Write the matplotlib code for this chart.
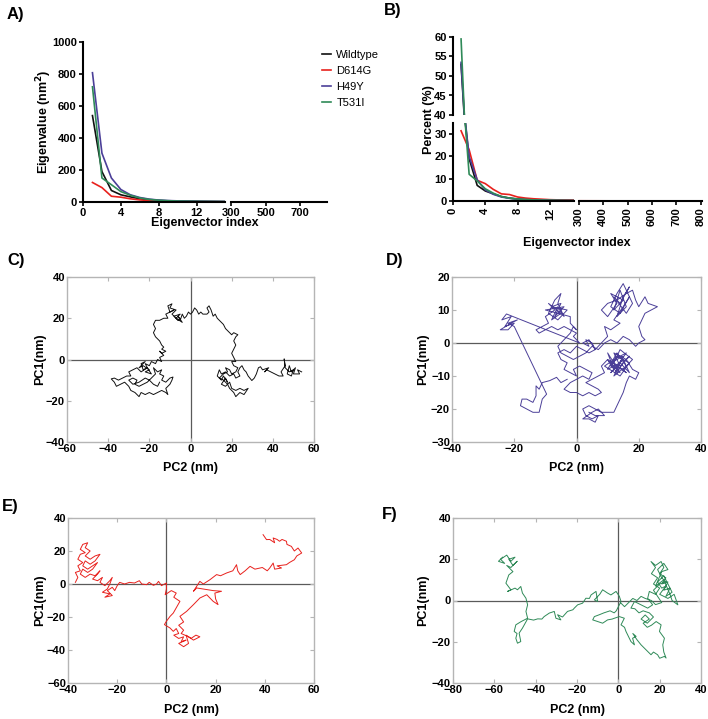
import numpy as np
import matplotlib
matplotlib.use("Agg")
import matplotlib.pyplot as plt

plt.rcParams['font.family'] = ['Liberation Sans', 'DejaVu Sans']

# ---- eigenvalue data (panel A) ----
idx_a = [1, 2, 3, 4, 5, 6, 7, 8, 9, 10, 11, 12, 13, 14, 15, 300, 805]
eig_wt = [540, 190, 72, 45, 32, 20, 13, 9, 7, 5, 4, 3.5, 3, 2.5, 2, 0.5, 0.1]
eig_d614g = [122, 90, 36, 30, 20, 13, 9, 7, 5, 4, 3, 2.5, 2, 1.8, 1.5, 0.4, 0.1]
eig_h49y = [808, 305, 150, 78, 45, 28, 18, 12, 9, 7, 6, 5, 4, 3.5, 3, 0.5, 0.1]
eig_t531i = [720, 150, 108, 65, 42, 25, 16, 11, 8, 6, 5, 4, 3.5, 3, 2.5, 0.5, 0.1]

# ---- percent data (panel B) ----
idx_b = [1, 2, 3, 4, 5, 6, 7, 8, 9, 10, 11, 12, 13, 14, 15, 300, 805]
pct_wt = [53, 19, 7, 4.5, 3.2, 2, 1.3, 0.9, 0.7, 0.5, 0.4, 0.35, 0.3, 0.25, 0.2, 0.05, 0]
pct_d614g = [31.5, 23, 9.3, 7.8, 5.2, 3.2, 2.9, 1.8, 1.3, 1, 0.8, 0.6, 0.5, 0.45, 0.4, 0.1, 0]
pct_h49y = [53.5, 20, 9.5, 5, 3, 1.8, 1.2, 0.8, 0.6, 0.5, 0.4, 0.35, 0.3, 0.25, 0.2, 0.05, 0]
pct_t531i = [59.5, 12, 9, 5.5, 3.5, 2, 1.3, 0.9, 0.7, 0.5, 0.4, 0.35, 0.3, 0.25, 0.2, 0.05, 0]

names = ['Wildtype', 'D614G', 'H49Y', 'T531I']
colors = ['#111111', '#e8211d', '#4b3f98', '#2f8a58']

# ---- PC1/PC2 projections, (PC2, PC1) pairs ----
traj_wt = [
    (54, -6), (52, -5), (53, -7), (50, -7), (51, -4), (49, -6), (48, -3), (47, -7), (49, -8), (50, -5),
    (48, -6), (46, -4), (45.5, 0.3), (46, -3), (44, -6), (45, -8), (43, -8), (41, -7), (39, -6), (37, -5),
    (36, -6), (38, -4), (35, -5), (34, -3.5), (33, -4), (32, -7), (31, -9), (29.8, -10.2), (28, -8), (27, -6),
    (26, -5), (25, -3), (24, -4), (23, -6), (24, -8), (22, -9), (21, -7), (19, -8), (17, -6), (15, -7),
    (14, -5), (13, -8), (15, -10), (16, -8), (18, -11), (17, -9), (15, -12), (17, -13), (19, -11), (20, -14),
    (22, -15), (24, -14), (26, -15), (28, -14), (26, -17), (24, -16), (22, -18), (21, -16), (19, -14), (18, -12),
    (16, -10), (14, -9), (16, -7), (18, -6), (17, -4), (19, -5), (20, -7), (22, -6), (23, -4), (21, -3),
    (20, -1), (22, -1), (21, 1), (20, 3), (21, 5), (22, 7), (21, 9), (22, 11), (23, 12), (21, 13),
    (20, 12), (18, 14), (17, 15), (16, 17), (15, 18), (14, 19), (13, 20), (12, 22), (11, 21), (10, 24),
    (9, 26), (8, 25), (9, 23), (8, 22), (6, 22), (5, 23), (4, 22), (3, 24), (2, 25), (1, 23),
    (0, 22), (-1, 23), (-2, 21), (-3, 20), (-4, 22), (-5, 19), (-6, 21), (-4, 18), (-7, 20), (-5, 22),
    (-8, 21), (-6, 19), (-9, 22), (-7, 24), (-10, 25), (-9, 27), (-11, 26), (-10, 23), (-8, 24), (-12, 22),
    (-11, 20), (-13, 20), (-15, 19), (-17, 19), (-18, 17), (-17, 15), (-18, 13), (-17, 11), (-16, 10), (-15, 9),
    (-14, 7), (-13, 6), (-14, 5), (-12, 4), (-14, 3), (-15, 4), (-13, 2), (-15, 1), (-14, -1), (-16, 0),
    (-17, -2), (-19, -1), (-20, -3), (-22, -2), (-21, -4), (-23, -5), (-24, -2), (-22, -1), (-25, -4), (-23, -3),
    (-20, -5), (-22, -6), (-19, -7), (-21, -4), (-24, -6), (-26, -4), (-28, -5), (-30, -6), (-29, -8), (-31, -8),
    (-33, -9), (-35, -10), (-37, -9), (-38.5, -9.4), (-37, -11), (-36, -13), (-34, -12), (-32, -11), (-30, -13), (-29, -15),
    (-27, -16), (-25, -18), (-24, -16), (-22, -17), (-20, -16), (-18, -17), (-16, -16), (-14, -15), (-12, -16), (-11, -17),
    (-12, -14), (-10, -12), (-9, -10), (-8.5, -8.5), (-10, -9), (-12, -11), (-14, -10), (-13, -8), (-15, -7), (-14, -5),
    (-16, -6), (-18, -4), (-17, -7), (-19, -9), (-21, -11), (-23, -12), (-25, -13), (-27, -12), (-26, -10), (-28, -9),
    (-30, -10), (-28, -12), (-25, -11), (-22, -9), (-20, -10), (-18, -12), (-16, -13), (-15, -11),
]

traj_h49y = [
    (4, -21), (6, -22), (9, -22), (7, -20), (5, -21), (2, -23), (4, -23), (6, -24), (7, -22), (5, -23),
    (3, -22), (2, -20), (4, -19), (6, -20), (8, -21), (10, -21), (12, -21), (13, -19), (14, -17), (15, -15),
    (16, -12), (17, -10), (19, -11), (20, -9), (18, -8), (16, -5), (12, -3), (14, -7), (17, -4), (15, -6),
    (13, -9), (10, -5), (16, -9), (12, -6), (14, -2), (18, -5), (15, -8), (11, -7), (13, -4), (17, -6),
    (14, -10), (9, -7), (12, -5), (16, -3), (13, -7), (11, -9), (15, -5), (17, -9), (14, -6), (10, -8),
    (13, -3), (16, -7), (12, -10), (15, -4), (11, -6), (14, -9), (10, -3), (12, -8), (10, -5), (8, -7),
    (9, -9), (7, -10), (5, -11), (3, -12), (5, -13), (7, -14), (8, -15), (6, -16), (4, -15), (2, -16),
    (0, -15), (-2, -15), (-4, -14), (-3, -13), (-2, -12), (0, -11), (2, -10), (4, -11), (5, -9), (3, -8),
    (1, -7), (-1, -8), (0, -10), (-2, -9), (-4, -8), (-3, -6), (-5, -5), (-6, -3), (-4, -2), (-2, -3),
    (0, -1), (2, -2), (4, -3), (6, -2), (5, 0), (3, 1), (4, -1), (2, 0), (4, 1), (6, -2),
    (8, 0), (10, 2), (9, 5), (11, 4), (14, 6), (12, 7), (15, 11), (17, 14), (14, 9), (11, 11),
    (13, 15), (15, 18), (18, 12), (16, 9), (12, 14), (14, 12), (17, 17), (15, 14), (13, 8), (16, 11),
    (14, 16), (12, 10), (15, 13), (11, 15), (13, 12), (10, 8), (8, 10), (10, 12), (13, 13), (16, 15),
    (18, 16), (19, 13), (20, 11), (22, 14), (23, 12), (26, 11), (24, 10), (22, 9), (21, 7), (20, 5),
    (21, 2), (22, 1), (20, 0), (19, -1), (17, 1), (15, 2), (13, 0), (11, 1), (9, 0), (7, -2),
    (5, -1), (3, -3), (1, -4), (-1, -5), (-3, -4), (-5, -3), (-6, -1), (-4, 1), (-2, 3), (-1, 5),
    (0, 4), (-2, 6), (-2, 8), (-6, 9), (-10, 10), (-4, 11), (-7, 8), (-5, 12), (-8, 11), (-3, 10),
    (-6, 7), (-9, 9), (-7, 13), (-5, 15), (-6, 12), (-4, 8), (-6, 11), (-8, 7), (-5, 9), (-9, 12),
    (-7, 10), (-10, 8), (-9, 6), (-11, 5), (-13, 4), (-12, 3), (-10, 4), (-8, 5), (-6, 4), (-4, 5),
    (-2, 4), (0, 3), (-1, 2), (1, 0), (-22.5, 8.8), (-24, 7), (-21, 8), (-23, 5), (-20, 6), (-22, 4),
    (-24.5, 4), (-21, 6), (-19, 7), (-22, 6), (-20, 5), (-9.6, -15.5), (-11, -17), (-12, -21), (-14, -21), (-16, -20),
    (-18, -19), (-17.5, -17), (-16, -17), (-14, -18), (-13, -16), (-13, -13), (-12, -14), (-11, -12), (-8.6, -11.4), (-6.4, -10.4),
    (-5, -12), (-3, -11),
]

traj_d614g = [
    (-37, 1), (-36, 4), (-37, 7), (-35, 8), (-36, 11), (-34, 13), (-36, 15), (-35, 18), (-33, 19), (-35, 21),
    (-34, 24), (-32, 25), (-33, 22), (-31, 20), (-33, 17), (-31, 15), (-29, 17), (-27, 18), (-29, 14), (-31, 12),
    (-33, 14), (-34, 11), (-32, 9), (-30, 11), (-28, 13), (-30, 9), (-32, 7), (-34, 9), (-35, 6), (-33, 4),
    (-31, 6), (-29, 5), (-27, 8), (-28, 6), (-30, 3), (-28, 2), (-26, 4), (-27, 1), (-25, -1), (-23, 2),
    (-22, 4), (-23, 0), (-24, -3), (-26, -5), (-23, -6), (-25, -8), (-22, -7), (-24, -4), (-22, -2), (-21, -4),
    (-20, -1), (-19, 1), (-17, 0), (-15, 1), (-13, 0.6), (-11, 2), (-10, 0), (-8, -0.4), (-7, 1), (-5.3, -0.8),
    (-4, 0), (-3.2, 1.6), (-2, -1), (0, 0.6), (0, -3), (-0.5, -6.5), (1, -5), (2, -4), (4, -5.5), (3, -8),
    (5.5, -10.5), (4, -14.5), (2.8, -17.6), (1.5, -19.6), (0, -22.6), (-0.8, -24.6), (1.5, -26.7), (2.8, -28.7), (4, -27), (5, -30),
    (3, -31), (5, -33), (7, -32), (6, -35), (8, -34), (5, -36), (7, -38), (9, -36), (8, -31), (10, -33),
    (12, -31), (13.6, -32), (11, -34), (9, -32), (6, -30), (7, -28), (5, -25), (7, -23), (5.5, -19.6), (8.2, -16.6),
    (11, -12.5), (13.6, -8.5), (16.4, -6.5), (19, -10.5), (21, -12.5), (20, -9), (19.7, -5.5), (22.4, -4.4), (19, -4),
    (16.4, -3.4), (12.3, -2.4), (11, -4.4), (13.6, 1.6), (15, 0), (17.7, 2.6), (20.4, 5.7), (22, 5), (24.5, 6.7), (27, 8),
    (28.5, 11.7), (29, 8), (30, 5.7), (32, 8), (34, 10.7), (36, 9), (39, 10), (41, 8), (42, 9.7), (43.4, 12.7),
    (44, 9), (46.8, 9.7), (45, 11), (48.8, 11.7), (50, 13), (52, 14.7), (53, 17), (55, 18.8), (53.5, 21.8), (52, 20),
    (50.8, 22.8), (49, 24), (48.8, 25.9), (47, 27), (46, 25.9), (45, 27), (43.4, 27.9), (44, 25), (42, 27), (40.7, 26.9),
    (39.3, 29.9),
]

traj_t531i = [
    (-56, 21), (-58, 19), (-55, 18), (-57, 20), (-54, 22), (-52, 19), (-50, 21), (-53, 20), (-51, 17), (-49, 19),
    (-52, 16), (-54, 17), (-51, 14), (-53, 12.4), (-54.4, 8.4), (-52, 5.2), (-53.6, 4.4), (-50, 6), (-48.8, 5.2), (-47.2, 6.8),
    (-46.4, 3.6), (-44.7, 1.1), (-43.9, -2.1), (-44.7, -5.3), (-43.9, -8.6), (-47, -10.2), (-49.6, -11.8), (-50.4, -15), (-49, -16), (-49.6, -18.3),
    (-48.8, -20.7), (-47.2, -19.9), (-48, -15.8), (-46.4, -13.4), (-43.9, -8.9), (-41, -9.5), (-39, -8.9), (-37, -9), (-35.9, -7.8), (-33.4, -6.1),
    (-31, -5.3), (-30.2, -8.6), (-27.8, -9.4), (-29.4, -6.9), (-27, -8), (-24.6, -5.3), (-22, -4.5), (-21.3, -3.7), (-19.7, -2.1), (-17.3, -1.3),
    (-15.7, 1.1), (-14, 1), (-13.2, 2.7), (-10.8, 4.4), (-10, -0.5), (-11.6, 0.3), (-9, 3), (-7.6, 5.2), (-5.2, 3.6), (-3.6, 2.7),
    (-1.1, 4.4), (0.5, 2), (1.3, -0.5), (0, -3), (-1, -5), (-2, -6), (-4, -5), (-7, -6), (-9.2, -6.9), (-11.6, -7.8),
    (-12.4, -9.4), (-10, -10.2), (-7.6, -11), (-5.2, -9.4), (-3, -9), (-1.9, -8.6), (0.5, -7.8), (2.9, -8.6), (1.3, -11.8), (3, -13),
    (3.7, -15), (4.5, -16.6), (6.1, -19.9), (7.8, -21.5), (6.9, -18.3), (8.6, -17.4), (7, -16), (9, -19), (11, -21.5), (13.4, -23.9),
    (15.8, -26.3), (17, -25), (19, -26.3), (20, -28), (22.3, -27.1), (23.1, -27.9), (22, -25), (21.5, -21.5), (22.3, -18.3), (19.9, -15),
    (20.7, -11.8), (18.3, -10.2), (16, -12), (14, -13), (12, -11), (15, -9), (13, -7), (11, -9), (14, -11), (17, -8),
    (15, -6), (12, -5), (10, -6), (8, -4), (6.1, -3.7), (7.8, -0.5), (11, -2.1), (14.2, -3.7), (16.6, -2.1), (14.2, 1.1),
    (15, 4.4), (18, 3), (20, 6), (17, 8), (19, 11), (16, 13), (18, 16), (15.8, 18.9), (18, 17), (20.7, 18.9),
    (22, 16), (20, 13), (23, 11), (21, 8), (24, 9), (22, 5), (25, 6), (23, 2), (26, 4), (24, 8),
    (22, 12), (19, 9), (21, 6), (23, 7), (20, 3), (24, 1), (27, 3), (28.8, -2.1), (26, 0), (25, 3),
    (22, 10), (18, 7), (21, 14), (24, 15), (22, 18), (19, 15), (21, 11), (23, 9), (20, 8), (17, 5),
    (19, 2), (21, -1), (18, -2), (16, 0), (13, 1), (11, 2), (9, 0), (7, 1), (5, -1), (3, -3),
    (1, -1),
]

W, H = 708, 719
fig = plt.figure(figsize=(W / 100, H / 100), dpi=100)


def rect(left, top, right, bottom):
    return [left / W, 1 - bottom / H, (right - left) / W, (bottom - top) / H]


def style_ab(ax, left=True):
    for s in ['top', 'right']:
        ax.spines[s].set_visible(False)
    ax.spines['bottom'].set_linewidth(1.5)
    ax.spines['left'].set_linewidth(1.5)
    if not left:
        ax.spines['left'].set_visible(False)
        ax.set_yticks([])
    ax.tick_params(direction='out', length=3, width=1.2, labelsize=8, pad=1.5)
    for t in ax.get_xticklabels() + ax.get_yticklabels():
        t.set_fontweight('bold')


# ---------------- Panel A ----------------
eigs = [eig_wt, eig_d614g, eig_h49y, eig_t531i]
axA1 = fig.add_axes(rect(83, 42, 225, 202))
axA2 = fig.add_axes(rect(231, 42, 327, 202))
for ax in (axA1, axA2):
    for vals, c, n in zip(eigs, colors, names):
        ax.plot(idx_a, vals, color=c, lw=1.2, label=n)
    ax.set_ylim(0, 1000)
axA1.set_xlim(0, 15)
axA1.set_xticks([0, 4, 8, 12])
axA1.set_yticks([0, 200, 400, 600, 800, 1000])
axA2.set_xlim(300, 855)
axA2.set_xticks([300, 500, 700])
style_ab(axA1)
style_ab(axA2, left=False)
handles, labels = axA1.get_legend_handles_labels()
fig.legend(handles, labels, loc='upper left', bbox_to_anchor=(312 / W, 1 - 40 / H),
           frameon=False, fontsize=8, handlelength=0.8, handletextpad=0.5, labelspacing=0.55)
fig.text(44 / W, 1 - 122 / H, 'Eigenvalue (nm$^\\mathbf{2}$)', rotation=90, ha='center', va='center',
         fontsize=9, fontweight='bold')
fig.text(205 / W, 1 - 223 / H, 'Eigenvector index', ha='center', va='center', fontsize=9, fontweight='bold')

# ---------------- Panel B ----------------
pcts = [pct_wt, pct_d614g, pct_h49y, pct_t531i]
axBu = fig.add_axes(rect(453, 37, 574, 115))
axBl = fig.add_axes(rect(453, 123, 574, 201))
axB2 = fig.add_axes(rect(579, 123, 702, 201))
for ax in (axBu, axBl, axB2):
    for vals, c in zip(pcts, colors):
        ax.plot(idx_b, vals, color=c, lw=1.2)
axBu.set_ylim(40, 60)
axBu.set_yticks([40, 45, 50, 55, 60])
axBu.set_xlim(0, 15)
axBl.set_ylim(0, 35)
axBl.set_yticks([0, 10, 20, 30])
axBl.set_xlim(0, 15)
axBl.set_xticks([0, 4, 8, 12])
axB2.set_ylim(0, 35)
axB2.set_xlim(300, 805)
axB2.set_xticks([300, 400, 500, 600, 700, 800])
style_ab(axBu)
axBu.spines['bottom'].set_visible(False)
axBu.set_xticks([])
style_ab(axBl)
style_ab(axB2, left=False)
for ax in (axBl, axB2):
    for t in ax.get_xticklabels():
        t.set_rotation(90)
fig.text(429 / W, 1 - 120 / H, 'Percent (%)', rotation=90, ha='center', va='center',
         fontsize=9, fontweight='bold')
fig.text(577 / W, 1 - 243 / H, 'Eigenvector index', ha='center', va='center', fontsize=9, fontweight='bold')

# ---------------- Panels C-F ----------------
panels = [
    (traj_wt, colors[0], (67, 277, 314, 442), (-60, 60), (-40, 40), 20, 20, 468, 40),
    (traj_h49y, colors[2], (452, 277, 701, 442), (-40, 40), (-30, 20), 20, 10, 468, 423),
    (traj_d614g, colors[1], (68, 518, 314, 683), (-40, 60), (-60, 40), 20, 20, 710, 40),
    (traj_t531i, colors[3], (453, 518, 701, 683), (-80, 40), (-40, 40), 20, 20, 710, 423),
]
for traj, c, box, xl, yl, xs, ys, xlab_y, ylab_x in panels:
    ax = fig.add_axes(rect(*box))
    pts = np.array(traj)
    ax.axhline(0, color='#5a5a5a', lw=0.9, zorder=1)
    ax.axvline(0, color='#5a5a5a', lw=0.9, zorder=1)
    ax.plot(pts[:, 0], pts[:, 1], color=c, lw=0.7, zorder=2)
    ax.set_xlim(*xl)
    ax.set_ylim(*yl)
    ax.set_xticks(np.arange(xl[0], xl[1] + 1, xs))
    ax.set_yticks(np.arange(yl[0], yl[1] + 1, ys))
    for s in ax.spines.values():
        s.set_color('#b5b5b5')
        s.set_linewidth(1.0)
    ax.tick_params(direction='in', length=3, color='#b5b5b5', top=True, right=True,
                   labelsize=8, pad=1.5)
    for t in ax.get_xticklabels() + ax.get_yticklabels():
        t.set_fontweight('bold')
    xc = (box[0] + box[2]) / 2
    yc = (box[1] + box[3]) / 2
    fig.text(xc / W, 1 - xlab_y / H, 'PC2 (nm)', ha='center', va='center', fontsize=9, fontweight='bold')
    fig.text(ylab_x / W, 1 - yc / H, 'PC1(nm)', rotation=90, ha='center', va='center',
             fontsize=9, fontweight='bold')

# panel letters
for lab, x, y in [('A)', 7, 15), ('B)', 384, 11), ('C)', 7, 260), ('D)', 386, 260),
                  ('E)', 2, 506), ('F)', 382, 515)]:
    fig.text(x / W, 1 - y / H, lab, ha='left', va='center', fontsize=12, fontweight='bold')

fig.savefig('out.png', dpi=100)
